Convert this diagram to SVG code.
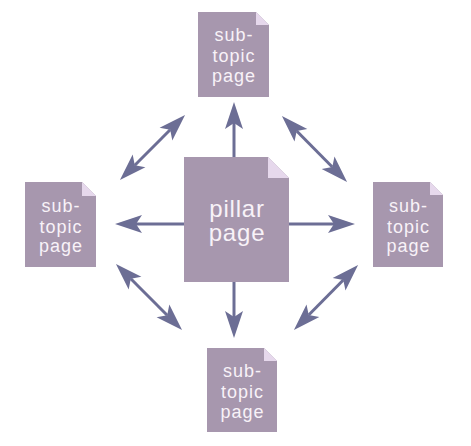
<svg xmlns="http://www.w3.org/2000/svg" width="471" height="446" viewBox="0 0 471 446">
  <style>
    .body { fill: #a797ae; }
    .fold { fill: #e6d8ec; }
    .lbl { font-family: "Liberation Sans", Arial, sans-serif; font-size: 18px; letter-spacing: 1px; fill: #f8f2f8; text-anchor: middle; }
    .big { font-size: 24px; letter-spacing: 0.8px; }
    .conn { stroke: #6c6e95; stroke-width: 3; fill: none; }
  </style>
  <defs>
    <marker id="ah" markerUnits="userSpaceOnUse" markerWidth="28" markerHeight="20" refX="6" refY="10" orient="auto-start-reverse" viewBox="0 0 28 20">
      <path d="M27,10 L0,1 L6,10 L0,19 Z" fill="#6c6e95"/>
    </marker>
  </defs>
  <rect width="471" height="446" fill="#ffffff"/>

  <g id="connectors">
    <line class="conn" x1="234" y1="157" x2="234" y2="123" marker-end="url(#ah)"/>
    <line class="conn" x1="234" y1="282" x2="234" y2="317" marker-end="url(#ah)"/>
    <line class="conn" x1="184" y1="224" x2="136" y2="224" marker-end="url(#ah)"/>
    <line class="conn" x1="289" y1="224" x2="334" y2="224" marker-end="url(#ah)"/>
    <line class="conn" x1="170.2" y1="129.8" x2="134.8" y2="165.2" marker-start="url(#ah)" marker-end="url(#ah)"/>
    <line class="conn" x1="296.7" y1="131" x2="332.3" y2="167" marker-start="url(#ah)" marker-end="url(#ah)"/>
    <line class="conn" x1="130.8" y1="278.8" x2="167.2" y2="315.2" marker-start="url(#ah)" marker-end="url(#ah)"/>
    <line class="conn" x1="343.3" y1="280" x2="308.7" y2="315" marker-start="url(#ah)" marker-end="url(#ah)"/>
  </g>

  <g id="pillar">
    <polygon class="body" points="184,157 268,157 289,178 289,282 184,282"/>
    <polygon class="fold" points="268,157 268,178 289,178"/>
    <text class="lbl big" x="237" y="217">pillar</text>
    <text class="lbl big" x="237" y="241">page</text>
  </g>

  <g id="sub-top">
    <polygon class="body" points="198,12 256,12 269,25 269,97 198,97"/>
    <polygon class="fold" points="256,12 256,25 269,25"/>
    <text class="lbl" x="234" y="41">sub-</text>
    <text class="lbl" x="234" y="62">topic</text>
    <text class="lbl" x="234" y="82">page</text>
  </g>

  <g id="sub-left">
    <polygon class="body" points="25,182 82,182 96,196 96,267 25,267"/>
    <polygon class="fold" points="82,182 82,196 96,196"/>
    <text class="lbl" x="61" y="212">sub-</text>
    <text class="lbl" x="61" y="233">topic</text>
    <text class="lbl" x="61" y="252">page</text>
  </g>

  <g id="sub-right">
    <polygon class="body" points="373,182 430,182 443,195 443,267 373,267"/>
    <polygon class="fold" points="430,182 430,195 443,195"/>
    <text class="lbl" x="408.5" y="212">sub-</text>
    <text class="lbl" x="408.5" y="233">topic</text>
    <text class="lbl" x="408.5" y="252">page</text>
  </g>

  <g id="sub-bottom">
    <polygon class="body" points="207,348 264,348 277,361 277,432 207,432"/>
    <polygon class="fold" points="264,348 264,361 277,361"/>
    <text class="lbl" x="242.5" y="377">sub-</text>
    <text class="lbl" x="242.5" y="398">topic</text>
    <text class="lbl" x="242.5" y="418">page</text>
  </g>
</svg>
